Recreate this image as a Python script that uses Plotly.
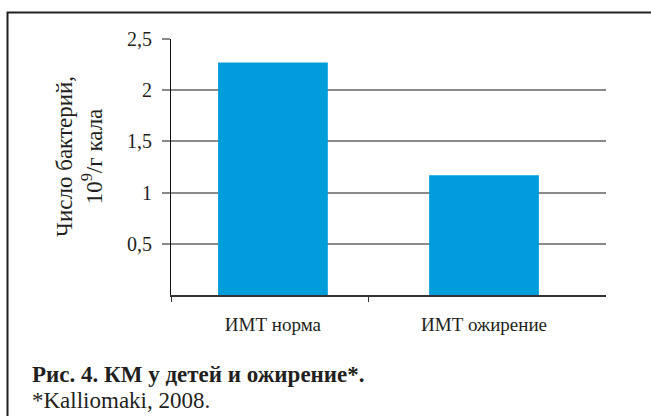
import plotly.graph_objects as go

# Data
categories = ["ИМТ норма", "ИМТ ожирение"]
values = [2.27, 1.17]
y_ticks = [0.5, 1, 1.5, 2, 2.5]
y_tick_text = ["0,5", "1", "1,5", "2", "2,5"]
y_title = "Число бактерий,<br>10<sup>9</sup>/г кала"
caption_title = "<b>Рис. 4. КМ у детей и ожирение*.</b>"
caption_source = "*Kalliomaki, 2008."

W, H = 651, 416
L, R, T, B = 171, 45, 39, 121
PW, PH = W - L - R, H - T - B


def px(x):
    return (x - L) / PW


def py(y):
    return (H - B - y) / PH


x_pos = list(range(len(categories)))
x_range = [-0.483, 1.578]
boundary_ticks = [-0.483, 0.455]

fig = go.Figure()
fig.add_trace(go.Bar(
    x=x_pos, y=values, width=0.52,
    marker=dict(color="#009ddb", line=dict(width=0)),
    hoverinfo="skip",
))
# invisible trace so the secondary x axis (category boundary ticks) is drawn
fig.add_trace(go.Scatter(x=boundary_ticks, y=[0, 0], xaxis="x2",
                         mode="markers", marker=dict(opacity=0),
                         hoverinfo="skip", showlegend=False))

serif = "Liberation Serif"
ink = "#231f20"
fig.update_layout(
    width=W, height=H,
    margin=dict(l=L, r=R, t=T, b=B),
    paper_bgcolor="white", plot_bgcolor="white",
    showlegend=False,
    font=dict(family=serif, color=ink),
    xaxis=dict(
        range=x_range, tickvals=x_pos, ticktext=categories,
        ticks="", showgrid=False, zeroline=False,
        showline=True, linecolor="#333333", linewidth=2,
        tickfont=dict(family=serif, size=19, color=ink),
        ticklabelstandoff=11,
    ),
    xaxis2=dict(
        overlaying="x", range=x_range, tickvals=boundary_ticks,
        ticks="outside", ticklen=6, tickcolor="#333333", tickwidth=1,
        showticklabels=False, showgrid=False, zeroline=False,
        showline=False, side="bottom",
    ),
    yaxis=dict(
        range=[0, 2.5], tickvals=y_ticks, ticktext=y_tick_text,
        ticks="outside", ticklen=8, tickcolor="#8a8a8a", tickwidth=2,
        showgrid=True, gridcolor="#8a8a8a", gridwidth=2,
        zeroline=False, showline=True, linecolor="#111111", linewidth=1,
        tickfont=dict(family=serif, size=20, color=ink),
        ticklabelstandoff=6,
    ),
    annotations=[
        dict(text=y_title, textangle=-90, xref="paper", yref="paper",
             x=px(79), y=py(157), xanchor="center", yanchor="middle",
             showarrow=False, font=dict(family=serif, size=23, color=ink)),
        dict(text=caption_title, xref="paper", yref="paper",
             x=px(30), y=py(374), xanchor="left", yanchor="middle",
             showarrow=False,
             font=dict(family=serif, size=23, color=ink)),
        dict(text=caption_source, xref="paper", yref="paper",
             x=px(30), y=py(400), xanchor="left", yanchor="middle",
             showarrow=False,
             font=dict(family=serif, size=23, color=ink)),
    ],
    shapes=[
        dict(type="path", xref="paper", yref="paper",
             path=f"M {px(W + 5)},{py(12.5)} L {px(7.5)},{py(12.5)} L {px(7.5)},{py(H + 5)}",
             line=dict(color=ink, width=2)),
    ],
)

fig.write_html("out.html")
